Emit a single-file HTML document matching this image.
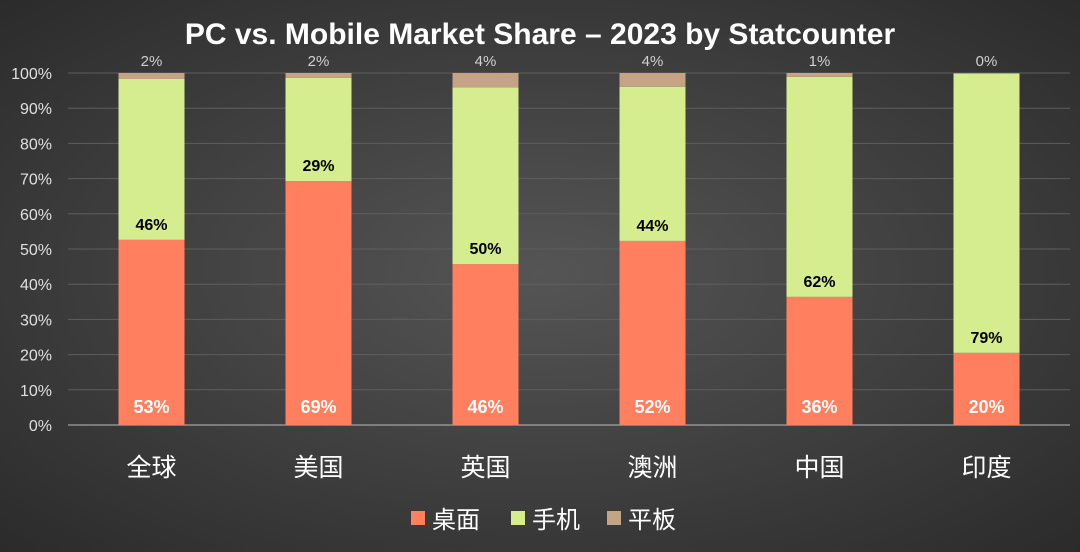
<!DOCTYPE html>
<html><head><meta charset="utf-8"><style>
html,body{margin:0;padding:0;}
body{width:1080px;height:547px;overflow:hidden;background:radial-gradient(ellipse at center,#555 0%,#3c3c3c 60%,#2b2b2b 100%);font-family:"Liberation Sans","Noto Sans CJK SC",sans-serif;}
</style></head><body>
<svg id="chart" width="1080" height="547" xmlns="http://www.w3.org/2000/svg">
<text x="540" y="44" text-anchor="middle" fill="#fff" font-size="30" font-weight="bold" font-family="Liberation Sans, sans-serif">PC vs. Mobile Market Share – 2023 by Statcounter</text>
<g id="grid"></g><g id="bars"></g><g id="labels"></g>
<g font-family="Liberation Sans, Noto Sans CJK SC, sans-serif" font-size="24" fill="#fff">
<rect x="411" y="511" width="14" height="14" fill="#ff7f5e"/>
<text x="432" y="528">桌面</text>
<rect x="511" y="511" width="14" height="14" fill="#d5ec8f"/>
<text x="532" y="528">手机</text>
<rect x="607" y="511" width="14" height="14" fill="#c4a484"/>
<text x="628" y="528">平板</text>
</g>
</svg>
<script>
const categories=["全球","美国","英国","澳洲","中国","印度"];
const desktop=[52.6,69.3,45.7,52.3,36.4,20.5];
const mobile=[45.7,29.3,50.2,43.8,62.5,79.3];
const tablet=[1.7,1.4,4.1,3.9,1.1,0.2];
const desktopLabels=["53%","69%","46%","52%","36%","20%"];
const mobileLabels=["46%","29%","50%","44%","62%","79%"];
const tabletLabels=["2%","2%","4%","4%","1%","0%"];
const yTicks=[0,10,20,30,40,50,60,70,80,90,100];
const NS="http://www.w3.org/2000/svg";
const x0=68,x1=1070,yTop=73,yBot=425;
const band=(x1-x0)/categories.length,bw=66;
const y=v=>yBot-(v/100)*(yBot-yTop);
const xc=i=>x0+band*(i+0.5);
function mk(tag,attrs,parent,text){const e=document.createElementNS(NS,tag);for(const k in attrs)e.setAttribute(k,attrs[k]);if(text!==undefined)e.textContent=text;document.getElementById(parent).appendChild(e);return e;}
yTicks.forEach(t=>{
  const l=mk("line",{x1:x0,x2:x1,y1:y(t),y2:y(t),stroke:t===0?"#bbb":"#5e5e5e","stroke-width":1},"grid");
  
  
  const tx=mk("text",{x:52,y:y(t)+6,"text-anchor":"end",fill:"#e0e0e0","font-size":"16"},"grid",t+"%");
  
  
});
categories.forEach((c,i)=>{
  const cx=xc(i),bx=cx-bw/2;
  const d0=desktop[i],m1=d0+mobile[i],t1=m1+tablet[i];
  const r1=mk("rect",{x:bx,y:y(d0),width:bw,height:y(0)-y(d0),fill:"#ff7f5e"},"bars");
  
  
  const r2=mk("rect",{x:bx,y:y(m1),width:bw,height:y(d0)-y(m1),fill:"#d5ec8f"},"bars");
  
  
  const r3=mk("rect",{x:bx,y:y(t1),width:bw,height:Math.max(0,y(m1)-y(t1)),fill:"#c4a484"},"bars");
  
  
  const a=mk("text",{x:cx,y:413,"text-anchor":"middle",fill:"#fff","font-size":"18","font-weight":"bold"},"labels",desktopLabels[i]);
  
  
  const b=mk("text",{x:cx,y:y(d0)-10,"text-anchor":"middle",fill:"#000","font-size":"16","font-weight":"bold"},"labels",mobileLabels[i]);
  
  
  const t=mk("text",{x:cx,y:66,"text-anchor":"middle",fill:"#d0d0d0","font-size":"15"},"labels",tabletLabels[i]);
  
  
  const cl=mk("text",{x:cx,y:476,"text-anchor":"middle",fill:"#fff","font-size":"25","font-family":"Noto Sans CJK SC, sans-serif"},"labels",c);
  
  
});
</script>
</body></html>
